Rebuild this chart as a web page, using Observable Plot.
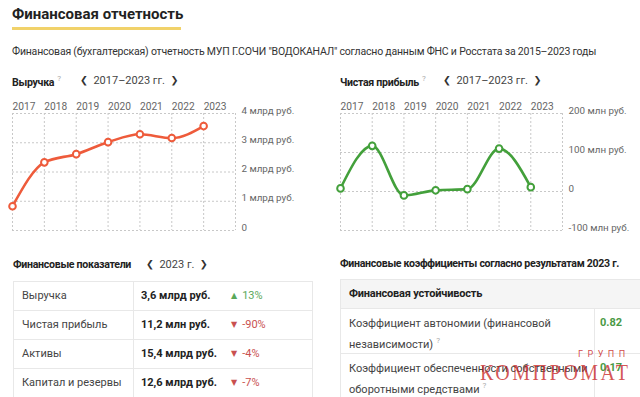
<!DOCTYPE html>
<html><head><meta charset="utf-8">
<script src="https://cdn.jsdelivr.net/npm/d3@7"></script>
<script src="https://cdn.jsdelivr.net/npm/@observablehq/plot@0.6"></script>
<style>
html,body{margin:0;padding:0;background:#fff;}
body{width:640px;height:397px;overflow:hidden;position:relative;font-family:Roboto,"Noto Sans",sans-serif;color:#333;}
.abs{position:absolute;white-space:nowrap;}
.title{left:12px;top:5px;font-size:15px;font-weight:700;color:#222;}
.uline{left:12px;top:27px;width:169px;height:2.5px;background:#f1d26a;}
.sub{left:12px;top:45px;font-size:10.5px;letter-spacing:-0.2px;color:#333;}
.lbl{font-size:10.6px;font-weight:700;color:#222;letter-spacing:-0.3px;}
.q{font-size:8px;color:#aaa;vertical-align:5px;margin-left:3px;font-weight:400;letter-spacing:0;}
.nav{font-size:11px;color:#444;}
.nav b{font-family:"DejaVu Sans",sans-serif;font-size:9.5px;font-weight:400;color:#333;vertical-align:1px;}
.cell{position:absolute;box-sizing:border-box;border:1px solid #e8e8e8;}
.txt{position:absolute;white-space:nowrap;font-size:11px;}
</style></head>
<body>
<div id="root"></div>
<script>
// ---- data ----
const years = [2017, 2018, 2019, 2020, 2021, 2022, 2023];
const gridYears = [2017, 2018, 2019, 2020, 2021, 2022, 2023, 2024];
const revenue = [0.83, 2.33, 2.61, 3.02, 3.29, 3.16, 3.57];   // млрд руб.
const profit = [8, 117, -10, 3, 6, 110, 11.2];                 // млн руб.
const revTicks = [0, 1, 2, 3, 4];
const revTickLabels = ["0", "1 млрд руб.", "2 млрд руб.", "3 млрд руб.", "4 млрд руб."];
const profTicks = [-100, 0, 100, 200];
const profTickLabels = ["-100 млн руб.", "0", "100 млн руб.", "200 млн руб."];

const indNames = ["Выручка", "Чистая прибыль", "Активы", "Капитал и резервы"];
const indValues = ["3,6 млрд руб.", "11,2 млн руб.", "15,4 млрд руб.", "12,6 млрд руб."];
const indChanges = [13, -90, -4, -7];

const coefNames = [["Коэффициент автономии (финансовой", "независимости)"], ["Коэффициент обеспеченности собственными", "оборотными средствами"]];
const coefValues = ["0.82", "0.17"];

const root = document.getElementById("root");
function add(html) { root.insertAdjacentHTML("beforeend", html); }

add(`<div class="abs title">Финансовая отчетность</div>`);
add(`<div class="abs uline"></div>`);
add(`<div class="abs sub">Финансовая (бухгалтерская) отчетность МУП Г.СОЧИ "ВОДОКАНАЛ" согласно данным ФНС и Росстата за 2015–2023 годы</div>`);
add(`<div class="abs lbl" style="left:12px;top:74px">Выручка<span class="q">?</span></div>`);
add(`<div class="abs nav" style="left:80px;top:74px"><b>❮</b>&nbsp; 2017–2023 гг. &nbsp;<b>❯</b></div>`);
add(`<div class="abs lbl" style="left:340px;top:74px">Чистая прибыль<span class="q">?</span></div>`);
add(`<div class="abs nav" style="left:443px;top:74px"><b>❮</b>&nbsp; 2017–2023 гг. &nbsp;<b>❯</b></div>`);

function chart(values, domainY, ticks, labels, color, left, mL, mR) {
  const data = years.map((y, i) => ({year: y, v: values[i]}));
  const grid = {stroke: "#c8c8c8", strokeOpacity: 1, strokeDasharray: "2,2", strokeWidth: 1};
  const svg = Plot.plot({
    width: 320, height: 145,
    marginLeft: mL, marginRight: mR, marginTop: 23, marginBottom: 5,
    style: {fontFamily: "Roboto, sans-serif", fontSize: "10.2px", color: "#666", background: "transparent"},
    x: {type: "linear", domain: [gridYears[0], gridYears[gridYears.length - 1]], axis: null},
    y: {domain: domainY, axis: null},
    marks: [
      Plot.gridX(gridYears, grid),
      Plot.gridY(ticks, grid),
      Plot.axisX(years, {anchor: "top", label: null, tickSize: 0, tickPadding: 4, textAnchor: "start", tickFormat: d => String(d), fill: "#666"}),
      Plot.axisY(ticks, {anchor: "right", label: null, tickSize: 0, tickPadding: 6, textAnchor: "start", dy: -3, fontSize: 9.8, tickFormat: d => labels[ticks.indexOf(d)], fill: "#666"}),
      Plot.line(data, {x: "year", y: "v", curve: "monotone-x", stroke: color, strokeWidth: 2.6}),
      Plot.dot(data, {x: "year", y: "v", r: 3.3, fill: "white", stroke: color, strokeWidth: 2})
    ]
  });
  svg.style.position = "absolute";
  svg.style.left = left + "px";
  svg.style.top = "90px";
  root.appendChild(svg);
}
chart(revenue, [0, 4], revTicks, revTickLabels, "#ee5b3b", 0, 12, 85);
chart(profit, [-100, 200], profTicks, profTickLabels, "#43a03b", 320, 20, 78);

// ---- bottom left table ----
add(`<div class="abs lbl" style="left:13px;top:258px">Финансовые показатели</div>`);
add(`<div class="abs nav" style="left:146px;top:258px"><b>❮</b>&nbsp; 2023 г. &nbsp;<b>❯</b></div>`);
const t0 = 281, rh = 29;
indNames.forEach((n, i) => {
  const top = t0 + i * rh;
  add(`<div class="cell" style="left:13px;top:${top}px;width:121px;height:${rh + 1}px"></div>`);
  add(`<div class="cell" style="left:133px;top:${top}px;width:180px;height:${rh + 1}px"></div>`);
  add(`<div class="txt" style="left:22px;top:${top + 8}px;color:#444">${n}</div>`);
  add(`<div class="txt" style="left:141px;top:${top + 8}px;font-weight:700;color:#222">${indValues[i]}</div>`);
  const up = indChanges[i] > 0;
  const c = up ? "#5aa85a" : "#c9504f";
  add(`<div class="txt" style="left:231px;top:${top + 8}px;color:${c}"><span style="font-family:'DejaVu Sans';font-size:8px;vertical-align:1px;margin-right:5px">${up ? "▲" : "▼"}</span>${indChanges[i]}%</div>`);
});

// ---- bottom right table ----
add(`<div class="abs lbl" style="left:340px;top:257px">Финансовые коэффициенты согласно результатам 2023 г.</div>`);
add(`<div class="cell" style="left:340px;top:279px;width:330px;height:30px;background:#f5f5f5"></div>`);
add(`<div class="txt" style="left:349px;top:287px;font-weight:700;color:#222;letter-spacing:-0.2px">Финансовая устойчивость</div>`);
const rows2 = [[308, 46], [353, 60]];
coefNames.forEach((lines, i) => {
  const [top, h] = rows2[i];
  add(`<div class="cell" style="left:340px;top:${top}px;width:255px;height:${h}px"></div>`);
  add(`<div class="cell" style="left:594px;top:${top}px;width:80px;height:${h}px"></div>`);
  add(`<div class="txt" style="left:349px;top:${top + 8}px;color:#444;line-height:16.5px">${lines[0]}<br>${lines[1]}<span class="q">?</span></div>`);
  add(`<div class="txt" style="left:600px;top:${top + 8}px;color:#4a9a45;font-weight:700">${coefValues[i]}</div>`);
});

// watermark
add(`<div class="abs" style="left:578px;top:349px;font-size:9px;letter-spacing:4.5px;color:rgba(200,40,40,0.85)">ГРУПП</div>`);
add(`<div class="abs" style="left:480px;top:358px;font-family:'Liberation Serif',serif;font-size:20px;letter-spacing:2.5px;transform:scaleY(1.2);transform-origin:left top;color:rgba(200,40,40,0.78)">КОМПРОМАТ</div>`);
</script>
</body></html>
